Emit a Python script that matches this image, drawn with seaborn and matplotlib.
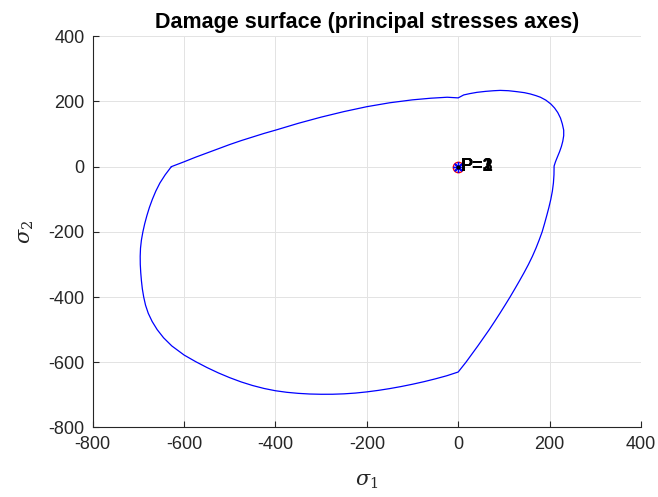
import matplotlib
matplotlib.use("Agg")
import matplotlib.pyplot as plt
import numpy as np
import pandas as pd
import seaborn as sns

# Damage surface outline in the principal stress plane (closed loop, clockwise
# from the uniaxial compression corner on the sigma_1 axis)
sigma1 = [
    # compression-tension branch (sigma_2 > 0)
    -628, -600, -575, -550, -525, -500, -475, -450, -425, -400, -350, -300, -250,
    -200, -150, -100, -60, -24, 0,
    # biaxial tension cap
    12, 25, 41, 60, 78, 92, 110, 129, 145, 158, 170, 180, 192, 203, 211, 218, 224,
    228, 231, 231, 229, 226, 222, 217, 213, 210,
    # tension-compression branch (sigma_1 > 0)
    209.7, 208.5, 206.2, 202.8, 198.6, 193.9, 189, 183.8, 177.3, 170.3, 162.5, 153.8,
    144.3, 134.3, 124, 113.5, 102.5, 91.3, 79.8, 68, 55.5, 43, 30, 17, 0,
    # biaxial compression, lower part
    -25, -50, -75, -100, -125, -150, -175, -200, -225, -250, -275, -300, -325, -350,
    -375, -400, -425, -450, -475, -500, -525, -550, -575, -600,
    # biaxial compression, left part
    -627, -645, -659, -670, -678.5, -684.5, -688.5, -691.5, -693.5, -695, -696, -696.2,
    -695.5, -693.5, -690.3, -686.3, -681.5, -676, -669.5, -662, -653, -641.5, -628,
]
sigma2 = [
    0, 15, 29, 42, 55, 68, 80, 91, 102, 112, 133, 152, 169,
    184, 196, 205, 210, 213, 211,
    220, 224, 228, 231, 233, 234, 233, 230, 227, 223, 218, 213, 204, 192, 180, 166, 149,
    131, 112, 95, 78, 62, 46, 29, 15, 2,
    -25, -50, -75, -100, -125, -150, -175, -200, -225, -250, -275, -300,
    -325, -350, -375, -400, -425, -450, -475, -500, -525, -550, -575, -600, -630,
    -641.5, -651, -659.7, -667.5, -674.6, -680.9, -686.4, -691, -694.6, -697, -698.2,
    -698.3, -697.5, -695.5, -692.3, -687.5, -680.5, -671.5, -660.5, -647.5, -632.8,
    -616.3, -598, -578,
    -550, -525, -500, -475, -450, -425, -400, -375, -350, -325, -300, -275,
    -250, -225, -200, -175, -150, -125, -100, -75, -50, -25, 0,
]

# Stress states checked against the surface
point_labels = ["P=1", "P=2", "P=3"]
point_s1 = [0, 0, 0]
point_s2 = [0, 0, 0]

x_ticks = [-800, -600, -400, -200, 0, 200, 400]
y_ticks = [-800, -600, -400, -200, 0, 200, 400]

sns.set_theme(style="whitegrid")
plt.rcParams["font.family"] = ["Liberation Sans", "DejaVu Sans"]
plt.rcParams["axes.unicode_minus"] = False
plt.rcParams["mathtext.fontset"] = "dejavuserif"

fig = plt.figure(figsize=(6.58, 4.97), dpi=100)
ax = fig.add_axes([0.141, 0.140, 0.833, 0.787])

surface = pd.DataFrame({"sigma1": sigma1, "sigma2": sigma2})
sns.lineplot(data=surface, x="sigma1", y="sigma2", sort=False, estimator=None,
             color="#0000ff", linewidth=0.9, ax=ax)

marker_styles = [
    dict(marker="o", markerfacecolor="none", markeredgecolor="red", markersize=7.5, markeredgewidth=1.0),
    dict(marker=(8, 2, 0), color="blue", markersize=7.5, markeredgewidth=1.0),
    dict(marker=".", color="black", markersize=4),
]
for s1, s2, lab, st in zip(point_s1, point_s2, point_labels, marker_styles):
    ax.plot([s1], [s2], linestyle="none", **st)
    ax.annotate(lab, (s1, s2), xytext=(2, 0), textcoords="offset points",
                ha="left", va="center", fontsize=13, fontweight="bold", color="black")

ax.set_xlim(-800, 400)
ax.set_ylim(-800, 400)
ax.set_xticks(x_ticks)
ax.set_yticks(y_ticks)
ax.set_xticklabels([str(t) for t in x_ticks])
ax.set_yticklabels([str(t) for t in y_ticks])

ax.set_facecolor("white")
ax.grid(True, color="#e3e3e3", linewidth=0.7)
for side in ["top", "right"]:
    ax.spines[side].set_visible(False)
for side in ["left", "bottom"]:
    ax.spines[side].set_visible(True)
    ax.spines[side].set_color("#262626")
    ax.spines[side].set_linewidth(0.8)
ax.tick_params(axis="both", direction="in", length=4, width=0.8, color="#262626",
               labelsize=13, labelcolor="#262626", pad=6)
ax.tick_params(axis="x", bottom=True, top=False)
ax.tick_params(axis="y", left=True, right=False)

ax.set_title("Damage surface (principal stresses axes)", fontsize=15.5, fontweight="bold",
             color="black", pad=6)
ax.set_xlabel(r"$\sigma_1$", fontsize=15, color="#262626", labelpad=14)
ax.set_ylabel(r"$\sigma_2$", fontsize=15, color="#262626", labelpad=9)

fig.savefig("out.png", dpi=100, facecolor="white")
